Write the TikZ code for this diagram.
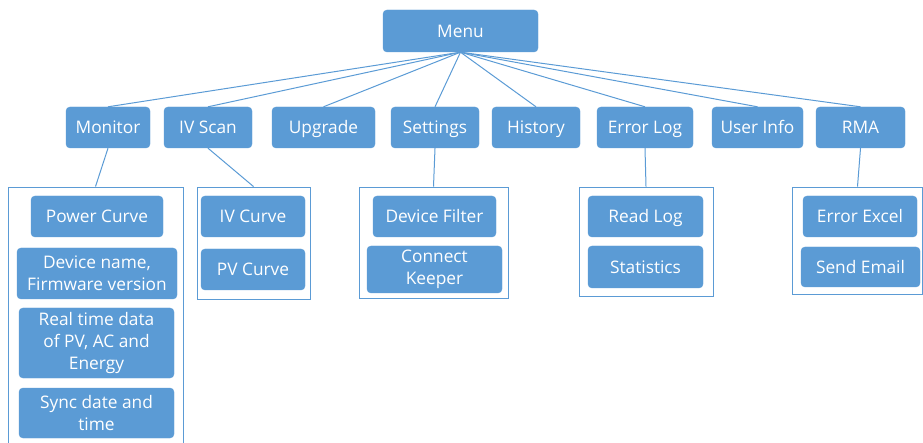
\documentclass[tikz,border=0pt]{standalone}
\usepackage{fontspec}
\setmainfont{Open Sans}
\definecolor{boxblue}{HTML}{5B9BD5}
\begin{document}
\begin{tikzpicture}[x=1pt,y=-1pt,
  mbox/.style={draw=boxblue, fill=boxblue, rounded corners=4pt, text=white, inner sep=0pt, align=center,
    font=\fontsize{17.3}{21.7}\selectfont},
  box/.style={mbox, text height=12.4pt, text depth=0pt},
  grp/.style={draw=boxblue, line width=0.9pt, inner sep=0pt},
  link/.style={draw=boxblue, line width=1pt}]
\useasboundingbox (0,0) rectangle (923,443);
% top
\node[box, minimum width=155pt, minimum height=42pt] (menu) at (460.5,31) {Menu};
% level 2
\node[box, minimum width=84pt, minimum height=41pt] (mon) at (108,127.5) {Monitor};
\node[box, minimum width=88pt, minimum height=41pt] (ivs) at (208,127.5) {IV Scan};
\node[box, minimum width=103pt, minimum height=41pt] (upg) at (323.5,127.5) {Upgrade};
\node[box, minimum width=88pt, minimum height=41pt] (set) at (435,127.5) {Settings};
\node[box, minimum width=88pt, minimum height=41pt] (his) at (536,127.5) {History};
\node[box, minimum width=96pt, minimum height=41pt] (err) at (645,127.5) {Error Log};
\node[box, minimum width=91pt, minimum height=41pt] (usr) at (757.5,127.5) {User Info};
\node[box, minimum width=89pt, minimum height=41pt] (rma) at (860.5,127.5) {RMA};
% groups
\node[grp, minimum width=175pt, minimum height=259pt] (gmon) at (95.5,316.5) {};
\node[grp, minimum width=113pt, minimum height=112pt] (givs) at (253.5,243) {};
\node[grp, minimum width=149pt, minimum height=111pt] (gset) at (433.5,242.5) {};
\node[grp, minimum width=134pt, minimum height=109pt] (gerr) at (646,241.5) {};
\node[grp, minimum width=130pt, minimum height=107pt] (grma) at (857.5,240.5) {};
% children
\node[box, minimum width=132pt, minimum height=41pt] (pc) at (97,216.5) {Power Curve};
\node[mbox, minimum width=160pt, minimum height=51pt] (dn) at (97,273.5) {Device name,\\Firmware version};
\node[mbox, minimum width=155pt, minimum height=70pt] (rt) at (96.5,343) {Real time data\\of PV, AC and\\Energy};
\node[mbox, minimum width=155pt, minimum height=50pt] (sd) at (96.5,413) {Sync date and\\time};
\node[box, minimum width=104pt, minimum height=41pt] (ivc) at (253,216.5) {IV Curve};
\node[box, minimum width=104pt, minimum height=41pt] (pvc) at (253,269.5) {PV Curve};
\node[box, minimum width=123pt, minimum height=41pt] (df) at (434.5,216.5) {Device Filter};
\node[mbox, minimum width=135pt, minimum height=47pt] (ck) at (434.5,269.5) {Connect\\Keeper};
\node[box, minimum width=115pt, minimum height=41pt] (rl) at (645.5,216.5) {Read Log};
\node[box, minimum width=115pt, minimum height=42pt] (st) at (645.5,267) {Statistics};
\node[box, minimum width=114pt, minimum height=41pt] (ee) at (860,216.5) {Error Excel};
\node[box, minimum width=119pt, minimum height=40pt] (se) at (860.5,267) {Send Email};
% connectors
\foreach \n in {mon,ivs,upg,set,his,err,usr,rma}
  \draw[link] (menu.south) -- (\n.north);
\draw[link] (mon.south) -- (gmon.north);
\draw[link] (ivs.south) -- (givs.north);
\draw[link] (set.south) -- (gset.north);
\draw[link] (err.south) -- (gerr.north);
\draw[link] (rma.south) -- (grma.north);
\end{tikzpicture}
\end{document}
